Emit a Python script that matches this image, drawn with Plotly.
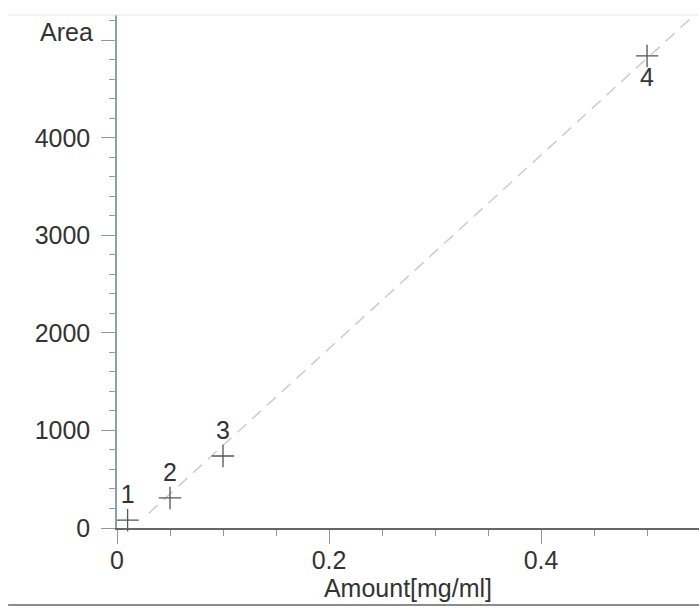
import numpy as np
import plotly.graph_objects as go

# Data
amount = [0.01, 0.05, 0.1, 0.5]
area = [80, 308, 738, 4840]
labels = ["1", "2", "3", "4"]
label_pos = ["top center", "top center", "top center", "bottom center"]

y_tickvals = [0, 1000, 2000, 3000, 4000, 5000]
y_ticktext = ["0", "1000", "2000", "3000", "4000", ""]
x_tickvals = [0, 0.2, 0.4]
x_ticktext = ["0", "0.2", "0.4"]

fit_x = [0.03, 0.55]

slope, intercept = np.polyfit(amount, area, 1)
fit_y = [slope * v + intercept for v in fit_x]

font = "Liberation Sans, Arial, sans-serif"
fs = 25
fig = go.Figure()
fig.add_trace(go.Scatter(
    x=fit_x, y=fit_y, mode="lines",
    line=dict(color="#cccccc", width=1.5, dash="12px,8px"),
    hoverinfo="skip", showlegend=False, cliponaxis=True))
fig.add_trace(go.Scatter(
    x=amount, y=area, mode="markers+text",
    marker=dict(symbol="cross-thin", size=16, line=dict(color="#555555", width=1.3)),
    text=labels, textposition=label_pos,
    textfont=dict(family=font, size=fs, color="#333333"),
    showlegend=False, cliponaxis=False))

fig.update_layout(
    width=699, height=610,
    margin=dict(l=117, r=0, t=15, b=82),
    paper_bgcolor="white", plot_bgcolor="white",
    font=dict(family=font, size=fs, color="#333333"),
    xaxis=dict(range=[0, 0.549], tickvals=x_tickvals, ticktext=x_ticktext,
               showgrid=False, zeroline=False, showline=True,
               linecolor="#666666", linewidth=1.5,
               ticks="outside", ticklen=14, tickcolor="#8a9aa0", tickwidth=1,
               ticklabelstandoff=-5,
               minor=dict(dtick=0.05, ticks="outside", ticklen=6, tickcolor="#8a9aa0"),
               title=dict(text="Amount[mg/ml]", standoff=0,
                          font=dict(family=font, size=fs, color="#333333")),
               tickfont=dict(family=font, size=fs, color="#333333")),
    yaxis=dict(range=[0, 5260], tickvals=y_tickvals, ticktext=y_ticktext,
               showgrid=False, zeroline=False, showline=True,
               linecolor="#8aa0a8", linewidth=1.5,
               ticks="outside", ticklen=14, tickcolor="#8a9aa0", tickwidth=1,
               ticklabelstandoff=6,
               minor=dict(dtick=200, ticks="outside", ticklen=6, tickcolor="#8a9aa0"),
               tickfont=dict(family=font, size=fs, color="#333333")),
    shapes=[
        dict(type="line", xref="paper", yref="paper", x0=-0.187, x1=1.0,
             y0=1.0, y1=1.0, line=dict(color="#e4e4e4", width=1)),
        dict(type="line", xref="paper", yref="paper", x0=-0.187, x1=1.0,
             y0=-0.150, y1=-0.150, line=dict(color="#666666", width=1.5)),
    ],
    annotations=[
        dict(text="Area", xref="paper", yref="y", x=0, y=5090, xanchor="right",
             yanchor="middle", xshift=-22, showarrow=False,
             font=dict(family=font, size=fs, color="#333333")),
    ],
)

fig.write_html("out.html")
